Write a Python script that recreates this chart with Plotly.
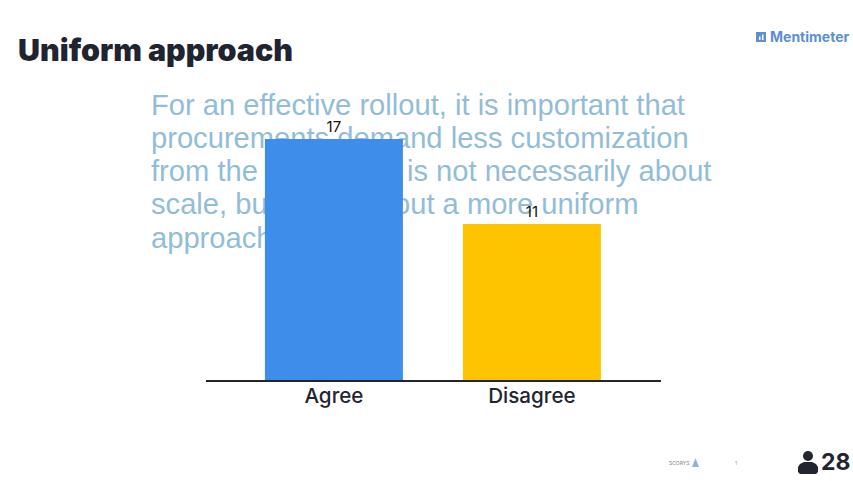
import plotly.graph_objects as go

categories = ["Agree", "Disagree"]
votes = [17, 11]
bar_colors = ["#3E8DEB", "#FFC400"]
title_text = "Uniform approach"
body_lines = [
    "For an effective rollout, it is important that",
    "procurements demand less customization",
    "from the supplier. It is not necessarily about",
    "scale, but really about a more uniform",
    "approach.",
]
W, H = 853, 481
fig = go.Figure()

# Background text lives on a lower subplot so that the bars paint over it.
fig.add_trace(go.Scatter(
    x=[151] * len(body_lines), y=[108, 141, 174, 207, 241],
    text=body_lines, mode="text", textposition="middle right",
    textfont=dict(family="Liberation Sans", size=29.15, color="#93BDD6"),
    xaxis="x", yaxis="y", hoverinfo="skip", showlegend=False, cliponaxis=False,
))
fig.add_trace(go.Bar(
    x=[0, 1], y=votes, marker=dict(color=bar_colors, line=dict(width=0)),
    width=0.697, text=[str(v) for v in votes], textposition="outside",
    textfont=dict(family="Inter", size=15, color="#111111"),
    cliponaxis=False, xaxis="x2", yaxis="y2", showlegend=False,
))

left, right, base, top = 206, 661, 380, 96.4
fig.update_layout(
    width=W, height=H, margin=dict(l=0, r=0, t=0, b=0),
    paper_bgcolor="#FFFFFF", plot_bgcolor="rgba(0,0,0,0)", autosize=False,
    xaxis=dict(domain=[0, 1], range=[0, W], visible=False, fixedrange=True),
    yaxis=dict(domain=[0, 1], range=[H, 0], visible=False, fixedrange=True),
    xaxis2=dict(domain=[left / W, right / W], range=[-0.646, 1.652], anchor="y2",
                tickmode="array", tickvals=[0, 1], ticktext=categories,
                tickfont=dict(family="Inter", size=20.6, color="#222430", weight=500),
                ticklabelstandoff=-3,
                showline=True, linecolor="#222430", linewidth=1.5,
                showgrid=False, ticks="", zeroline=False, ticklabelposition="outside"),
    yaxis2=dict(domain=[(H - base) / H, (H - top) / H], range=[0, 20], anchor="x2",
                visible=False, showgrid=False, zeroline=False),
    annotations=[
        dict(text=title_text, x=16 / W, y=1 - 50 / H, xref="paper", yref="paper",
             xanchor="left", yanchor="middle", showarrow=False,
             font=dict(family="Inter", size=30.4, color="#1F2430", weight=900)),
        dict(text="<b>Mentimeter</b>", x=768 / W, y=1 - 37 / H, xref="paper", yref="paper",
             xanchor="left", yanchor="middle", showarrow=False,
             font=dict(family="Inter", size=14, color="#5B8FD0")),
        dict(text="SCORYS", x=667 / W, y=1 - 463 / H, xref="paper", yref="paper",
             xanchor="left", yanchor="middle", showarrow=False,
             font=dict(family="Inter", size=5, color="#7A8490")),
        dict(text="1", x=736 / W, y=1 - 463 / H, xref="paper", yref="paper",
             xanchor="center", yanchor="middle", showarrow=False,
             font=dict(family="Inter", size=5, color="#8A93A0")),
        dict(text="<b>28</b>", x=819 / W, y=1 - 462 / H, xref="paper", yref="paper",
             xanchor="left", yanchor="middle", showarrow=False,
             font=dict(family="Inter", size=23, color="#222430", weight=800)),
    ],
    shapes=[
        dict(type="rect", xref="paper", yref="paper", x0=756 / W, x1=766 / W,
             y0=1 - 42 / H, y1=1 - 32 / H, fillcolor="#5B8FD0", line=dict(width=0)),
        dict(type="rect", xref="paper", yref="paper", x0=759 / W, x1=760.5 / W,
             y0=1 - 40 / H, y1=1 - 36.5 / H, fillcolor="#FFFFFF", line=dict(width=0)),
        dict(type="rect", xref="paper", yref="paper", x0=762 / W, x1=763.5 / W,
             y0=1 - 40 / H, y1=1 - 34.5 / H, fillcolor="#FFFFFF", line=dict(width=0)),
        dict(type="path", xref="paper", yref="paper", line=dict(width=0), fillcolor="#222430",
             path=" ".join(f"{c}{x / W:.5f},{1 - y / H:.5f}" if c != "Z" else "Z" for c, x, y in [
                 ("M", 798, 472), ("L", 798, 467), ("L", 800, 464), ("L", 804, 462), ("L", 812, 462),
                 ("L", 816, 464), ("L", 818, 467), ("L", 818, 472), ("L", 816, 474), ("L", 800, 474),
                 ("Z", 0, 0)])),
        dict(type="circle", xref="paper", yref="paper", x0=803 / W, x1=813 / W,
             y0=1 - 461 / H, y1=1 - 451 / H, fillcolor="#222430", line=dict(width=0)),
        dict(type="path", xref="paper", yref="paper", line=dict(width=0), fillcolor="#8FB4D8",
             path=" ".join(f"{c}{x / W:.5f},{1 - y / H:.5f}" if c != "Z" else "Z" for c, x, y in [
                 ("M", 695.5, 458), ("L", 699, 467), ("L", 692, 467), ("Z", 0, 0)])),
    ],
)
fig.write_html("out.html", config=dict(displayModeBar=False),
               post_script="document.body.style.margin='0';document.body.style.overflow='hidden';")
